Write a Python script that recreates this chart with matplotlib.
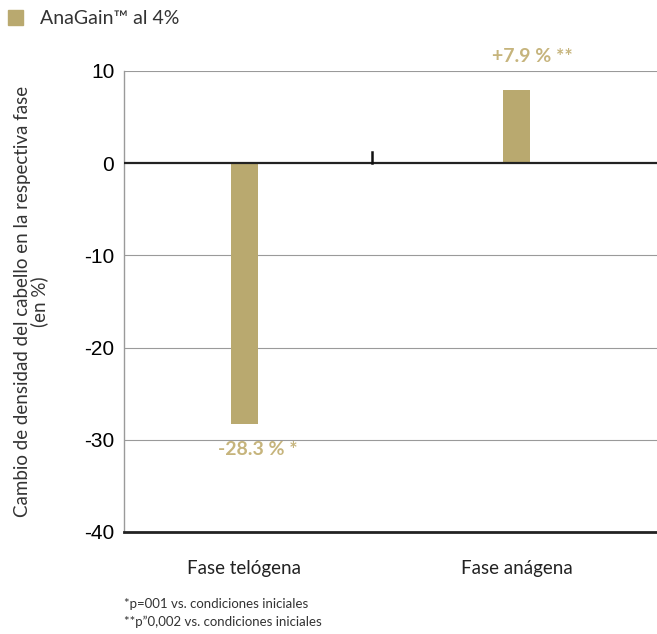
import matplotlib.pyplot as plt
from matplotlib.patches import Rectangle

fases = ['Fase telógena', 'Fase anágena']
cambio = [-28.3, 7.9]
etiquetas = ['-28.3 % *', '+7.9 % **']
y_ticks = [10, 0, -10, -20, -30, -40]
serie = 'AnaGain\u2122 al 4%'
notas = ['*p=001 vs. condiciones iniciales', '**p\u201d0,002 vs. condiciones iniciales']

oro = '#b9a96f'
oro_texto = '#c6b47c'
fuente = ['Lato', 'DejaVu Sans']

fig = plt.figure(figsize=(6.57, 6.34), dpi=100)
ax = fig.add_axes([0.1887, 0.1609, 0.8113, 0.7272])

pos = list(range(len(fases)))
ax.bar(pos, cambio, width=0.1, color=oro, zorder=3)

ax.set_xlim(-0.443, 1.517)
ax.set_ylim(-40, 10)
ax.set_yticks(y_ticks)
ax.set_yticklabels([str(v) for v in y_ticks], fontsize=15,
                   family=['Liberation Sans', 'DejaVu Sans'])
ax.tick_params(axis='y', length=0, pad=7)
ax.set_xticks(pos)
ax.set_xticklabels(fases, fontsize=13.5, family=fuente, color='#222222')
ax.tick_params(axis='x', length=0, pad=20)

for v in y_ticks[:-1]:
    if v == 0:
        ax.axhline(v, color='#222222', lw=1.6, zorder=4)
    else:
        ax.axhline(v, color='#9a9a9a', lw=0.8, zorder=1)
ax.plot([0.47, 0.47], [0, 1.2], color='#111111', lw=1.8, zorder=5)

for s in ['top', 'right']:
    ax.spines[s].set_visible(False)
ax.spines['left'].set_color('#9a9a9a')
ax.spines['left'].set_linewidth(1.0)
ax.spines['bottom'].set_color('#222222')
ax.spines['bottom'].set_linewidth(2.0)

for x, v, t in zip(pos, cambio, etiquetas):
    if v < 0:
        ax.text(x + 0.05, v - 1.8, t, ha='center', va='top', fontsize=14,
                fontweight='bold', color=oro_texto, family=fuente)
    else:
        ax.text(x + 0.06, 10.6, t, ha='center', va='bottom', fontsize=14,
                fontweight='bold', color=oro_texto, family=fuente)

ax.set_ylabel('Cambio de densidad del cabello en la respectiva fase\n(en %)',
              fontsize=13.5, family=fuente, color='#333333', labelpad=26,
              linespacing=0.9)

fig.patches.append(Rectangle((8 / 657, 1 - 25 / 634), 15 / 657, 15 / 634,
                             transform=fig.transFigure, color=oro))
fig.text(40 / 657, 1 - 18 / 634, serie, fontsize=14, va='center',
         family=fuente, color='#333333')

fig.text(124 / 657, 1 - 604 / 634, notas[0], fontsize=9.5, va='center',
         family=fuente, color='#333333')
fig.text(124 / 657, 1 - 622 / 634, notas[1], fontsize=9.5, va='center',
         family=fuente, color='#333333')

fig.savefig('out.png', dpi=100)
